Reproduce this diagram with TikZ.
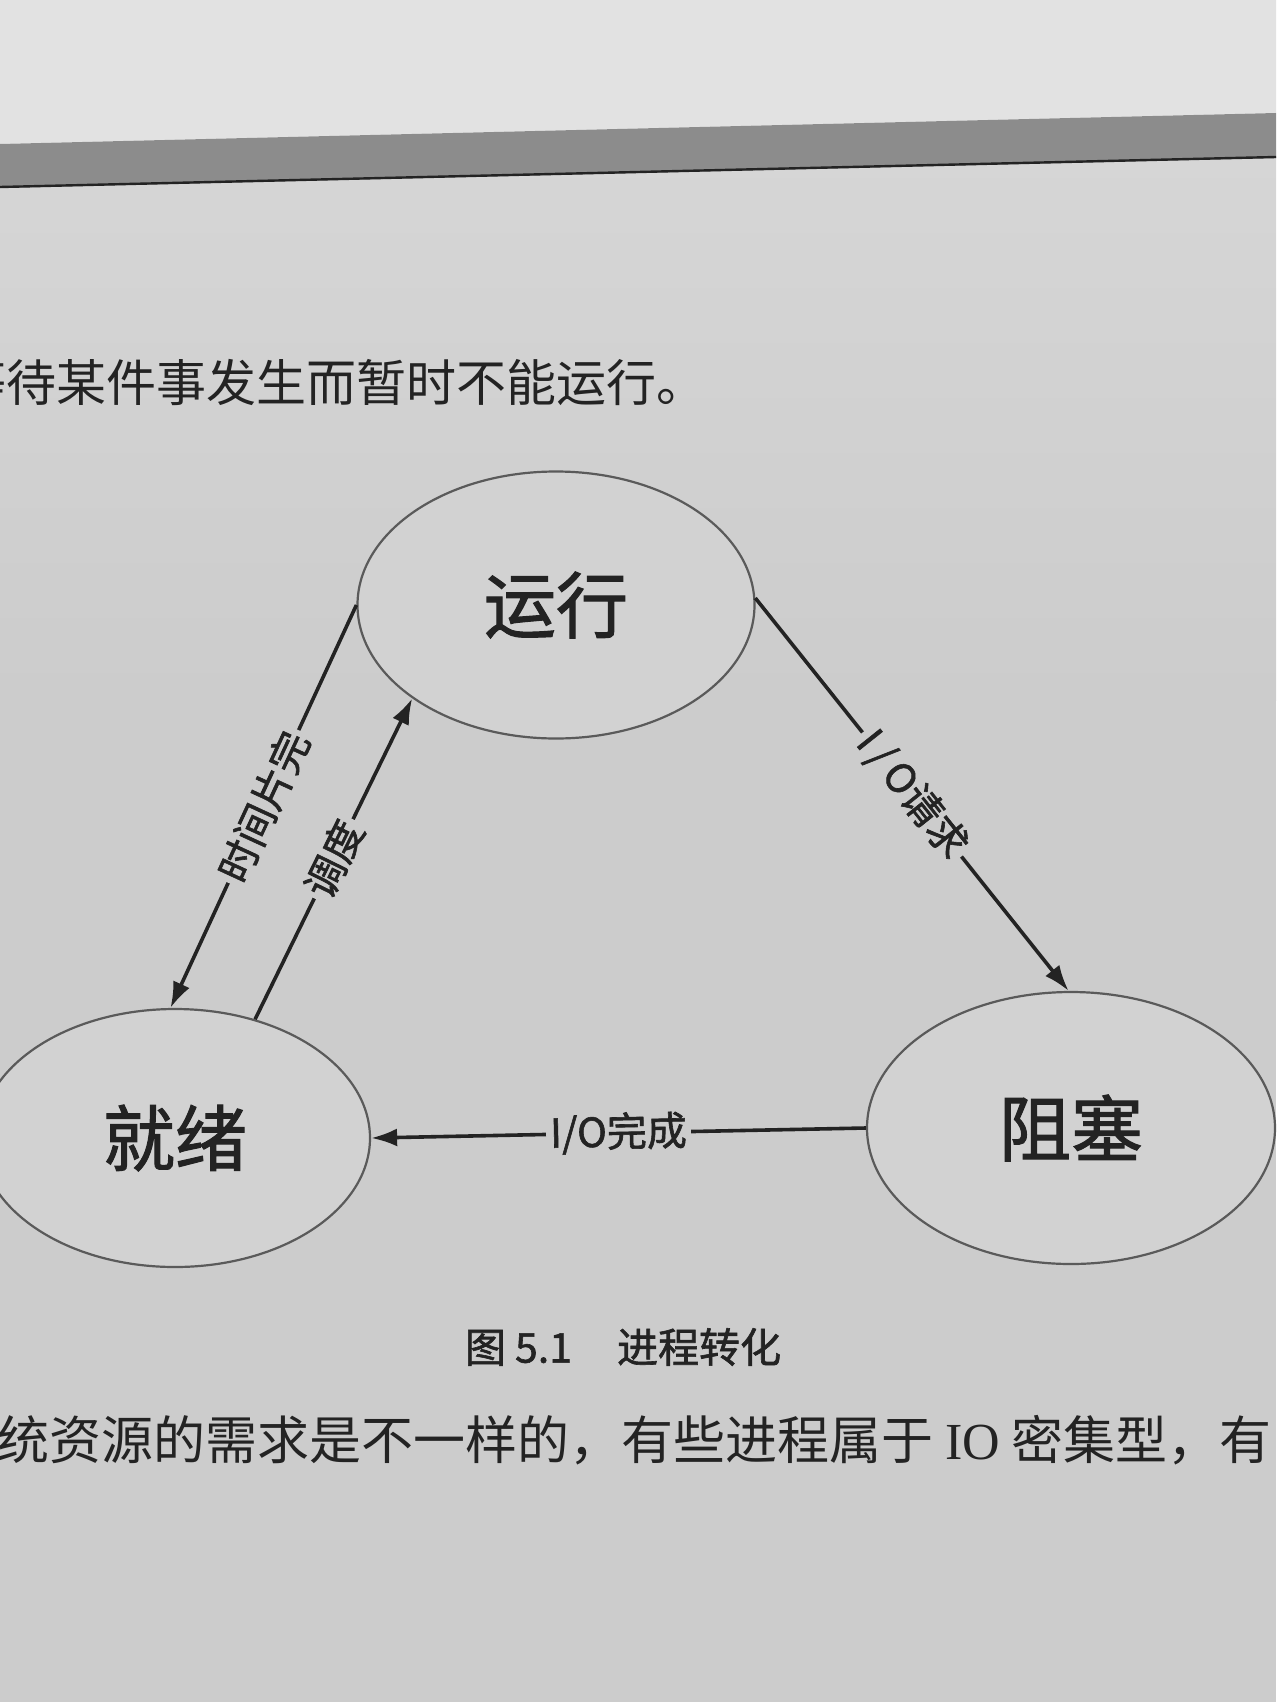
\documentclass[tikz,border=0pt]{standalone}
\usepackage{fontspec}
\setmainfont[AutoFakeBold=1.5]{Noto Sans CJK SC}
\newfontfamily\latinserif{Liberation Serif}
\usetikzlibrary{shapes.geometric,arrows.meta}
\definecolor{pagebg}{HTML}{CCCCCC}
\definecolor{pagetop}{HTML}{E2E2E2}
\definecolor{pagemid}{HTML}{D6D6D6}
\definecolor{barfill}{HTML}{8C8C8C}
\definecolor{inkc}{HTML}{232323}
\definecolor{statefill}{HTML}{D2D2D2}
\begin{document}
\begin{tikzpicture}[x=0.5pt,y=-0.5pt,
  state/.style={ellipse, draw=inkc!75, line width=1.1pt, fill=statefill, inner sep=0pt,
                text=inkc, font=\fontsize{36}{36}\selectfont\bfseries},
  flow/.style={draw=inkc, line width=1.8pt, -{Latex[length=13pt,width=9pt]}},
  lbl/.style={fill=pagebg, inner sep=2pt, font=\fontsize{20}{20}\selectfont\bfseries, text=inkc, sloped, midway},
  bodytext/.style={anchor=west, inner sep=0pt, text=inkc}
]
\useasboundingbox (0,0) rectangle (1276,1702);
\clip (0,0) rectangle (1276,1702);
% page
\shade[top color=pagemid, bottom color=pagebg] (0,150) rectangle (1276,700);
\fill[pagebg] (0,700) rectangle (1276,1702);
\fill[pagetop] (0,0) -- (1276,0) -- (1276,113) -- (0,144) -- cycle;
% header bar
\fill[barfill] (0,144) -- (1276,113) -- (1276,158) -- (0,188) -- cycle;
\draw[inkc, line width=1.2pt] (0,187) -- (1276,157);

% body text
\node[bodytext, font=\fontsize{25}{25}\selectfont] (line1) at (-44,382) {等待某件事发生而暂时不能运行。};
\node[bodytext, font=\fontsize{26}{26}\selectfont] (line2) at (-3,1440) {统资源的需求是不一样的，有些进程属于 {\latinserif IO} 密集型，有};

% states
\node[state, minimum width=198.5pt, minimum height=133.5pt] (run) at (556,605) {运行};
\node[state, minimum width=195pt, minimum height=129pt] (ready) at (175,1138) {就绪};
\node[state, minimum width=204pt, minimum height=136pt] (block) at (1071,1128) {阻塞};

% transitions
\draw[flow] (run.180) -- node[lbl]{时间片完} (ready.92);
\draw[flow] (ready.56) -- node[lbl]{调度} (run.213);
\draw[flow] (run.2) -- node[lbl]{I\,/\,O请求} (block.91);
\draw[flow] (block.180) -- node[lbl]{I/O完成} (ready.0);

% caption
\node[text=inkc, font=\fontsize{20.5}{20.5}\selectfont\bfseries] (cap) at (623,1347) {图 5.1\hspace{1.1em}进程转化};
\end{tikzpicture}
\end{document}
